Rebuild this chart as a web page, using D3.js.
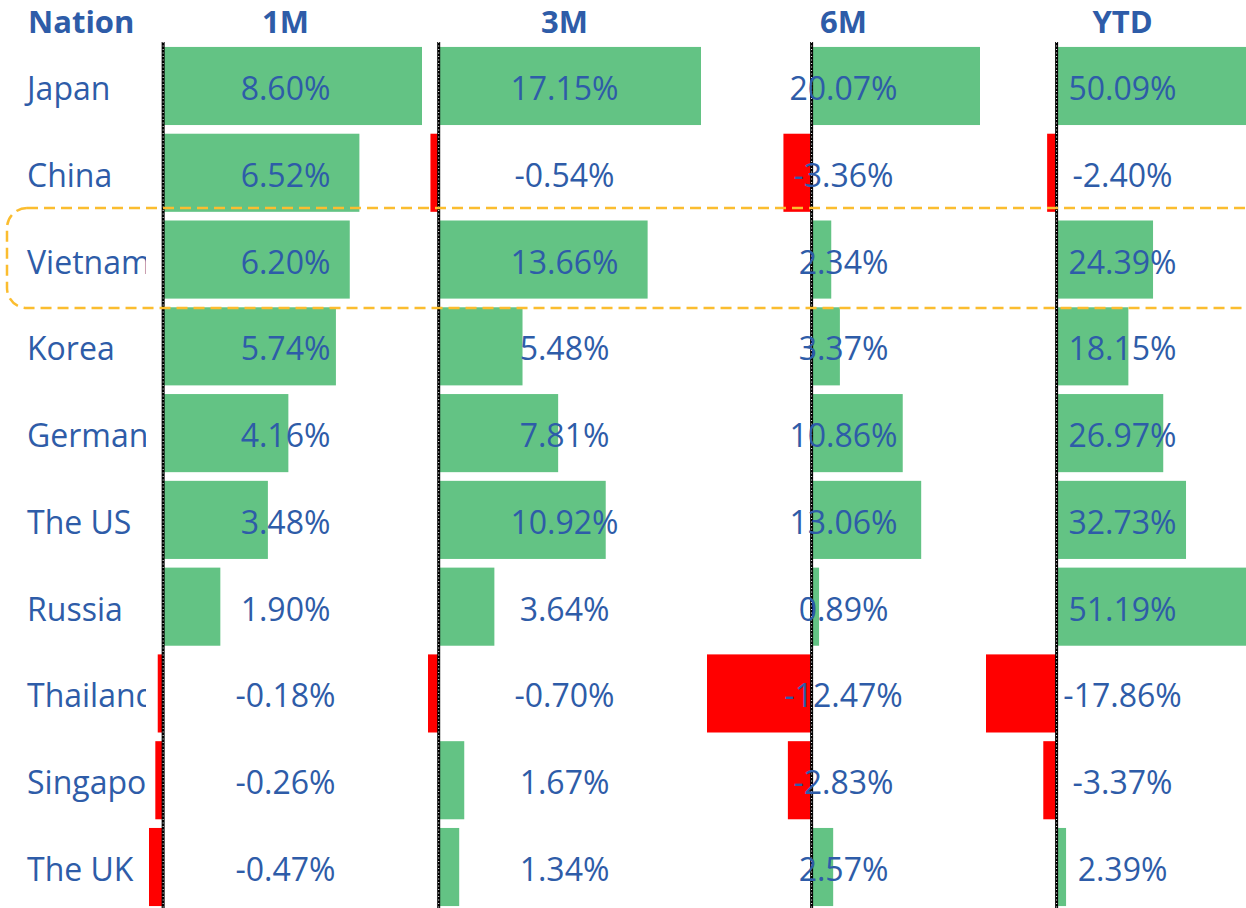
<!DOCTYPE html>
<html lang="en">
<head>
    <meta charset="UTF-8">
    <title>Nation returns</title>
    <script src="https://cdn.jsdelivr.net/npm/d3@7"></script>
    <style>
        html, body { margin: 0; padding: 0; background: #fff; }
        svg { display: block; }
        .lbl { font-family: "Open Sans", sans-serif; font-size: 32px; fill: #2e5ca8; }
        .hdr { font-family: "Open Sans", sans-serif; font-size: 31px; font-weight: bold; fill: #2e5ca8; }
    </style>
</head>
<body>
<div id="chart"></div>
<script>
    const nations = ["Japan", "China", "Vietnam", "Korea", "Germany", "The US", "Russia", "Thailand", "Singapore", "The UK"];
    const columns = ["1M", "3M", "6M", "YTD"];
    const m1 = [8.60, 6.52, 6.20, 5.74, 4.16, 3.48, 1.90, -0.18, -0.26, -0.47];
    const m3 = [17.15, -0.54, 13.66, 5.48, 7.81, 10.92, 3.64, -0.70, 1.67, 1.34];
    const m6 = [20.07, -3.36, 2.34, 3.37, 10.86, 13.06, 0.89, -12.47, -2.83, 2.57];
    const ytd = [50.09, -2.40, 24.39, 18.15, 26.97, 32.73, 51.19, -17.86, -3.37, 2.39];
    const series = [m1, m3, m6, ytd];

    const width = 1246, height = 908;
    const green = "#63c384", red = "#ff0000";

    const svg = d3.select("#chart").append("svg")
        .attr("width", width)
        .attr("height", height);

    // columns: nation column is 0..146, then 4 cells of ~279px
    const colX = d3.scaleBand().domain(columns).range([146, 1262]);
    const rowY = d3.scaleBand().domain(nations).range([42.6, 910.4])
        .paddingInner(0.1).paddingOuter(0.05);

    const xs = series.map((vals, i) => {
        const x0 = colX(columns[i]);
        return d3.scaleLinear()
            .domain([Math.min(0, d3.min(vals)), d3.max(vals)])
            .range([x0 + 3, x0 + colX.bandwidth() - 3]);
    });

    // bars
    series.forEach((vals, i) => {
        const x = xs[i];
        svg.append("g").selectAll("rect")
            .data(vals)
            .join("rect")
            .attr("x", d => x(Math.min(0, d)))
            .attr("y", (d, j) => rowY(nations[j]))
            .attr("width", d => Math.abs(x(d) - x(0)))
            .attr("height", rowY.bandwidth())
            .attr("fill", d => d < 0 ? red : green);
    });

    // zero axis lines
    xs.forEach(x => {
        svg.append("line")
            .attr("x1", x(0)).attr("x2", x(0))
            .attr("y1", 42).attr("y2", height)
            .attr("stroke", "#000").attr("stroke-width", 3);
        svg.append("line")
            .attr("x1", x(0)).attr("x2", x(0))
            .attr("y1", 42).attr("y2", height)
            .attr("stroke", "#fff").attr("stroke-width", 1)
            .attr("stroke-dasharray", "1 2.5");
    });

    // headers
    svg.append("text").attr("class", "hdr")
        .attr("x", 28).attr("y", 33).text("Nation");
    svg.append("g").selectAll("text")
        .data(columns)
        .join("text")
        .attr("class", "hdr")
        .attr("x", d => colX(d) + colX.bandwidth() / 2)
        .attr("y", 33)
        .attr("text-anchor", "middle")
        .text(d => d);

    // nation names, clipped to their column
    svg.append("clipPath").attr("id", "nclip")
        .append("rect").attr("x", 0).attr("y", 0).attr("width", 146).attr("height", height);
    svg.append("g").attr("clip-path", "url(#nclip)")
        .selectAll("text")
        .data(nations)
        .join("text")
        .attr("class", "lbl")
        .attr("x", 27)
        .attr("y", d => rowY(d) + rowY.bandwidth() / 2 + 14)
        .text(d => d);

    // value labels
    series.forEach((vals, i) => {
        svg.append("g").selectAll("text")
            .data(vals)
            .join("text")
            .attr("class", "lbl")
            .attr("x", colX(columns[i]) + colX.bandwidth() / 2)
            .attr("y", (d, j) => rowY(nations[j]) + rowY.bandwidth() / 2 + 14)
            .attr("text-anchor", "middle")
            .text(d => d.toFixed(2) + "%");
    });

    // highlight round Vietnam
    const vy = rowY("Vietnam");
    svg.append("rect")
        .attr("x", 7).attr("y", vy - 12.5)
        .attr("width", 1300).attr("height", rowY.bandwidth() + 22)
        .attr("rx", 20).attr("ry", 20)
        .attr("fill", "none")
        .attr("stroke", "#fbbd2f")
        .attr("stroke-width", 2.5)
        .attr("stroke-dasharray", "11 6");
</script>
</body>
</html>
